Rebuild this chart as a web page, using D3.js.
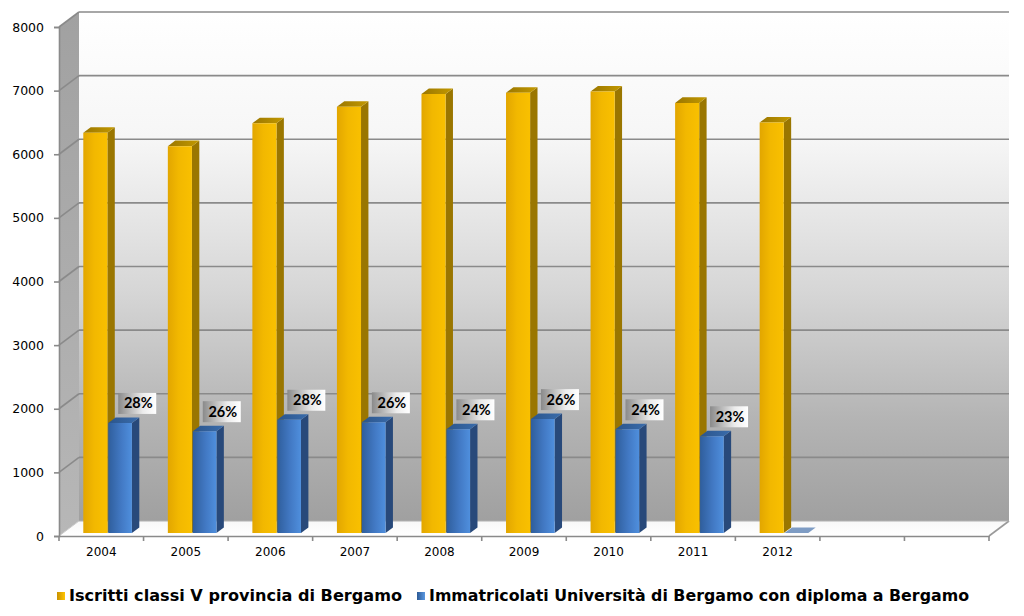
<!DOCTYPE html>
<html><head><meta charset="utf-8">
<script src="https://cdn.jsdelivr.net/npm/d3@7"></script>
<style>html,body{margin:0;padding:0;background:#fff;}svg{display:block;}</style>
</head><body>
<svg id="chart" width="1024" height="616"></svg>
<script>
const categories = ["2004","2005","2006","2007","2008","2009","2010","2011","2012"];
const slotCount = 11;
const iscritti = [6290, 6080, 6440, 6700, 6900, 6920, 6940, 6760, 6450];
const immatricolati = [1730, 1600, 1780, 1740, 1630, 1790, 1630, 1520, 0];
const percentLabels = ["28%","26%","28%","26%","24%","26%","24%","23%",""];
const yTicks = [0,1000,2000,3000,4000,5000,6000,7000,8000];
const seriesNames = ["Iscritti classi V provincia di Bergamo","Immatricolati Università di Bergamo con diploma a Bergamo"];

const svg = d3.select("#chart");
const DX = 20, DY = -15;            // full depth offset
const F0 = 0.2, F1 = 0.57;          // bar depth range
const x = d3.scaleBand().domain(d3.range(slotCount)).range([59, 989]).padding(0);
const y = d3.scaleLinear().domain([0, 8000]).range([536, 27]);
const P = (px, py, f) => [px + f*DX, py + f*DY];
const poly = pts => pts.map(p => p.join(",")).join(" ");

const defs = svg.append("defs");
function lin(id, stops, vertical){
  const g = defs.append("linearGradient").attr("id", id)
    .attr("x1",0).attr("y1",0).attr("x2", vertical?0:1).attr("y2", vertical?1:0);
  stops.forEach(s => g.append("stop").attr("offset", s[0]).attr("stop-color", s[1]));
}
lin("wall", [["0%","#ffffff"],["25%","#f6f6f6"],["55%","#d6d6d6"],["80%","#b4b4b4"],["100%","#a0a0a0"]], true);
lin("side", [["0%","#a1a1a1"],["100%","#b7b7b7"]], true);
lin("floor", [["0%","#f8f8f8"],["100%","#ffffff"]], true);
lin("goldFront", [["0%","#e2a600"],["45%","#f2b800"],["100%","#f9c000"]], false);
lin("goldTop", [["0%","#9a7600"],["100%","#c39900"]], false);
lin("blueFront", [["0%","#2f5e9c"],["55%","#4279c4"],["100%","#4f8fdd"]], false);
lin("blueTop", [["0%","#2b558c"],["100%","#3a6cab"]], false);
lin("labelBox", [["0%","#8a8a8a"],["30%","#b8b8b8"],["65%","#ececec"],["100%","#ffffff"]], false);
lin("legGold", [["0%","#c99200"],["100%","#ffc400"]], false);
lin("legBlue", [["0%","#2c5a96"],["100%","#5a98e0"]], false);

const xL = x.range()[0], xR = x.range()[1];
const y0 = y(0), yT = y(8000);

// back wall
svg.append("polygon").attr("points", poly([P(xL,yT,1),P(xR,yT,1),P(xR,y0,1),P(xL,y0,1)])).attr("fill","url(#wall)");
// left side wall
svg.append("polygon").attr("points", poly([[xL,yT],P(xL,yT,1),P(xL,y0,1),[xL,y0]])).attr("fill","url(#side)");
// floor
svg.append("polygon").attr("points", poly([[xL,y0],[xR,y0],P(xR,y0,1),P(xL,y0,1)])).attr("fill","url(#floor)");

// gridlines
const grid = svg.append("g").attr("stroke","#8a8a8a").attr("stroke-width",1.6).attr("fill","none");
yTicks.forEach(t => {
  if (t === 0) return;
  const a = P(xL, y(t), 1), b = P(xR, y(t), 1);
  grid.append("line").attr("x1",a[0]).attr("y1",a[1]).attr("x2",b[0]).attr("y2",b[1]);
  grid.append("line").attr("x1",xL).attr("y1",y(t)).attr("x2",a[0]).attr("y2",a[1]);
});
// floor edges
const fb = P(xR, y0, 1), fl = P(xL, y0, 1);
grid.append("line").attr("x1",xR).attr("y1",y0).attr("x2",fb[0]).attr("y2",fb[1]).attr("stroke","#9a9a9a");
grid.append("line").attr("x1",fl[0]).attr("y1",fl[1]).attr("x2",fb[0]).attr("y2",fb[1]).attr("stroke","#b0b0b0").attr("stroke-width",1);
grid.append("line").attr("x1",xL).attr("y1",y0).attr("x2",fl[0]).attr("y2",fl[1]).attr("stroke","#c8c8c8").attr("stroke-width",1);

// axes
const yAxis = svg.append("g").attr("transform",`translate(${xL},0)`)
  .call(d3.axisLeft(y).tickValues(yTicks).tickSize(5).tickPadding(10).tickFormat(d3.format("d")));
yAxis.select(".domain").attr("stroke","#8a8a8a").attr("stroke-width",1.6);
yAxis.selectAll(".tick line").attr("stroke","#8a8a8a").attr("stroke-width",1.6);
yAxis.selectAll("text").attr("font-family","'DejaVu Sans', Verdana, sans-serif").attr("font-size",12.5).attr("fill","#000");

const xAxis = svg.append("g").attr("transform",`translate(0,${y0})`)
  .call(d3.axisBottom(x).tickSize(0).tickPadding(11).tickFormat(i => categories[i] || ""));
xAxis.select(".domain").attr("stroke","#8a8a8a").attr("stroke-width",1.6);
xAxis.selectAll("text").attr("font-family","'DejaVu Sans', Verdana, sans-serif").attr("font-size",12).attr("fill","#000");
const bounds = d3.range(slotCount + 1).map(i => i < slotCount ? x(i) : x.range()[1]);
svg.append("g").selectAll("line").data(bounds).join("line")
  .attr("x1", d => d).attr("x2", d => d).attr("y1", y0).attr("y2", y0 + 5)
  .attr("stroke","#8a8a8a").attr("stroke-width",1.6);

// bars
const bw = x.bandwidth();
function bar(g, i, v, fr0, fr1, front, side, top){
  const xa = x(i) + fr0*bw, xb = x(i) + fr1*bw;
  const yb = y(0), yt = y(v);
  const A = P(xa, yt, F0), B = P(xb, yt, F0), C = P(xb, yb, F0), D = P(xa, yb, F0);
  const Bt = P(xb, yt, F1), Cb = P(xb, yb, F1), At = P(xa, yt, F1);
  g.append("polygon").attr("points", poly([B, Bt, Cb, C])).attr("fill", side);
  g.append("polygon").attr("points", poly([A, B, Bt, At])).attr("fill", top);
  if (v > 0) g.append("polygon").attr("points", poly([A, B, C, D])).attr("fill", front);
  return {xa: xa + F0*DX, xb: xb + F0*DX, yt: yt + F0*DY};
}
const barsG = svg.append("g");
const tops = [];
categories.forEach((c, i) => {
  bar(barsG, i, iscritti[i], 0.24, 0.525, "url(#goldFront)", "#9a7600", "url(#goldTop)");
  tops.push(bar(barsG, i, immatricolati[i], 0.535, 0.815, "url(#blueFront)", "#28497a",
      immatricolati[i] > 0 ? "url(#blueTop)" : "#7e9cc4"));
});

// percentage labels
const labG = svg.append("g");
percentLabels.forEach((t, i) => {
  if (!t) return;
  const bx = tops[i].xa + 10, by = tops[i].yt - 9 - 21;
  labG.append("rect").attr("x", bx).attr("y", by).attr("width", 38).attr("height", 21).attr("fill","url(#labelBox)");
  labG.append("text").attr("x", bx + 20).attr("y", by + 15.5).attr("text-anchor","middle")
    .attr("font-family","Lato, 'Open Sans', sans-serif").attr("font-weight","bold").attr("font-size",14.5)
    .attr("fill","#000").text(t);
});

// legend
const leg = svg.append("g");
const legItems = [{x: 57, w: 333, fill: "url(#legGold)"}, {x: 417, w: 540, fill: "url(#legBlue)"}];
seriesNames.forEach((n, i) => {
  const it = legItems[i];
  leg.append("rect").attr("x", it.x).attr("y", 592).attr("width", 8).attr("height", 8).attr("fill", it.fill);
  leg.append("text").attr("x", it.x + 12).attr("y", 600.5)
    .attr("font-family","'DejaVu Sans', Verdana, sans-serif").attr("font-weight","bold").attr("font-size",16.5)
    .attr("textLength", it.w).attr("lengthAdjust","spacingAndGlyphs")
    .attr("fill","#000").text(n);
});
</script>
</body></html>
